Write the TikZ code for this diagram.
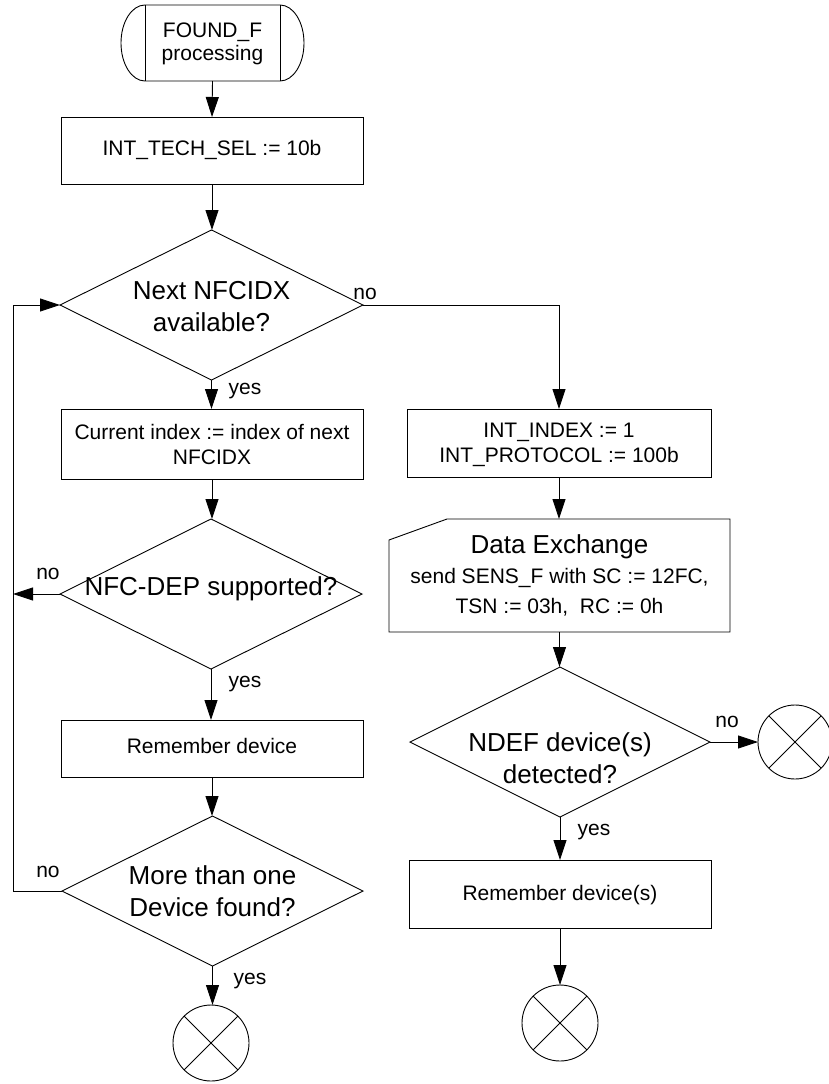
\documentclass[tikz,border=0pt]{standalone}
\usepackage{fontspec}
\setmainfont{Liberation Sans}
\usetikzlibrary{arrows.meta,shapes.geometric}
\newcommand\boxfont{\fontsize{21}{25}\selectfont}
\newcommand\diafont{\fontsize{26}{32}\selectfont}
\begin{document}
\begin{tikzpicture}[x=1pt,y=-1pt,
  every node/.style={inner sep=0pt, outer sep=0pt},
  ln/.style={line width=0.9pt},
  arr/.style={ln, -{Triangle[length=20pt,width=13pt]}},
  boxnode/.style={draw, ln, rectangle, minimum width=#1},
  dianode/.style={draw, ln, diamond, minimum width=#1, minimum height=150},
  endnode/.style={draw, ln, circle, minimum size=#1},
  txt/.style={font=\boxfont, align=center},
  dtxt/.style={font=\diafont, align=center},
  lbl/.style={font=\boxfont}
]
\useasboundingbox (0,0) rectangle (829,1084);
\fill[white] (0,0) rectangle (829,1084);

% start terminal
\node[minimum width=183, minimum height=76] (start) at (212.5,43) {};
\draw[ln] (145,5) -- (280,5) arc (-90:90:24 and 38) -- (145,81) arc (90:270:24 and 38) -- cycle;
\draw[ln] (280,5) -- (280,81);
\draw[ln] (145,5) -- (145,81);
\node[font=\fontsize{21}{23}\selectfont, align=center] (startt) at (212.5,44) {FOUND\_F\\processing};

% left column
\node[boxnode=302, minimum height=67] (b1) at (212,150.5) {};
\node[txt] (b1t) at (212,150) {INT\_TECH\_SEL := 10b};

\node[dianode=303] (d1) at (211.5,305) {};
\node[dtxt] (d1t) at (211.5,307) {Next NFCIDX\\available?};

\node[boxnode=302, minimum height=70] (b2) at (212,444) {};
\node[txt] (b2t) at (212,444.5) {Current index := index of next\\NFCIDX};

\node[dianode=302] (d2) at (211,594) {};
\node[dtxt] (d2t) at (211,589) {NFC-DEP supported?};

\node[boxnode=302, minimum height=57] (b3) at (212,748.5) {};
\node[txt] (b3t) at (212,746) {Remember device};

\node[dianode=301] (d3) at (212.5,891) {};
\node[dtxt] (d3t) at (212.5,891) {More than one\\Device found?};

\node[endnode=76] (e1) at (211,1043) {};
\draw[ln] (e1.north west) -- (e1.south east) (e1.north east) -- (e1.south west);

% right column
\node[boxnode=304, minimum height=68] (b4) at (559,443) {};
\node[txt] (b4t) at (559,444.5) {INT\_INDEX := 1\\INT\_PROTOCOL := 100b};

\node[minimum width=341, minimum height=113] (dx) at (559.5,575.5) {};
\draw[ln] (447,519) -- (730,519) -- (730,632) -- (389,632) -- (389,540) -- cycle;
\node[dtxt] (dx1) at (559.5,547) {Data Exchange};
\node[txt] (dx2) at (559.5,578) {send SENS\_F with SC := 12FC,};
\node[txt] (dx3) at (559.5,607) {TSN := 03h,\ \ RC := 0h};

\node[dianode=300] (d4) at (560,742) {};
\node[dtxt] (d4t) at (560,758) {NDEF device(s)\\detected?};

\node[endnode=74] (e3) at (795,742) {};
\draw[ln] (e3.north west) -- (e3.south east) (e3.north east) -- (e3.south west);

\node[boxnode=302, minimum height=68] (b5) at (560,894) {};
\node[txt] (b5t) at (560,895) {Remember device(s)};

\node[endnode=76] (e2) at (560,1023) {};
\draw[ln] (e2.north west) -- (e2.south east) (e2.north east) -- (e2.south west);

% connectors
\coordinate (lp2) at (13,594);
\coordinate (lp3) at (13,891);
\draw[arr] (start.south) -- (b1.north);
\draw[arr] (b1.south) -- (b1.south |- d1.north);
\draw[arr] (d1.east) -| (b4.north);
\draw[arr] (d1.south) -- (d1.south |- b2.north);
\draw[arr] (b2.south) -- (b2.south |- d2.north);
\draw[arr] (d2.west) -- (lp2);
\draw[arr] (d2.south) -- (d2.south |- b3.north);
\draw[arr] (b3.south) -- (b3.south |- d3.north);
\draw[arr] (d3.west) -- (lp3) |- (d1.west);
\draw[arr] (d3.south) -- (d3.south |- e1.north);
\draw[arr] (b4.south) -- (b4.south |- dx.north);
\draw[arr] (dx.south) -- (dx.south |- d4.north);
\draw[arr] (d4.east) -- (e3.west);
\draw[arr] (d4.south) -- (d4.south |- b5.north);
\draw[arr] (b5.south) -- (b5.south |- e2.north);

% labels
\node[lbl] (l1) at (365,294) {no};
\node[lbl] (l2) at (245,391) {yes};
\node[lbl] (l3) at (48,574) {no};
\node[lbl] (l4) at (245,684) {yes};
\node[lbl] (l5) at (48,872) {no};
\node[lbl] (l6) at (250,981) {yes};
\node[lbl] (l7) at (727,722) {no};
\node[lbl] (l8) at (594,832) {yes};
\end{tikzpicture}
\end{document}
